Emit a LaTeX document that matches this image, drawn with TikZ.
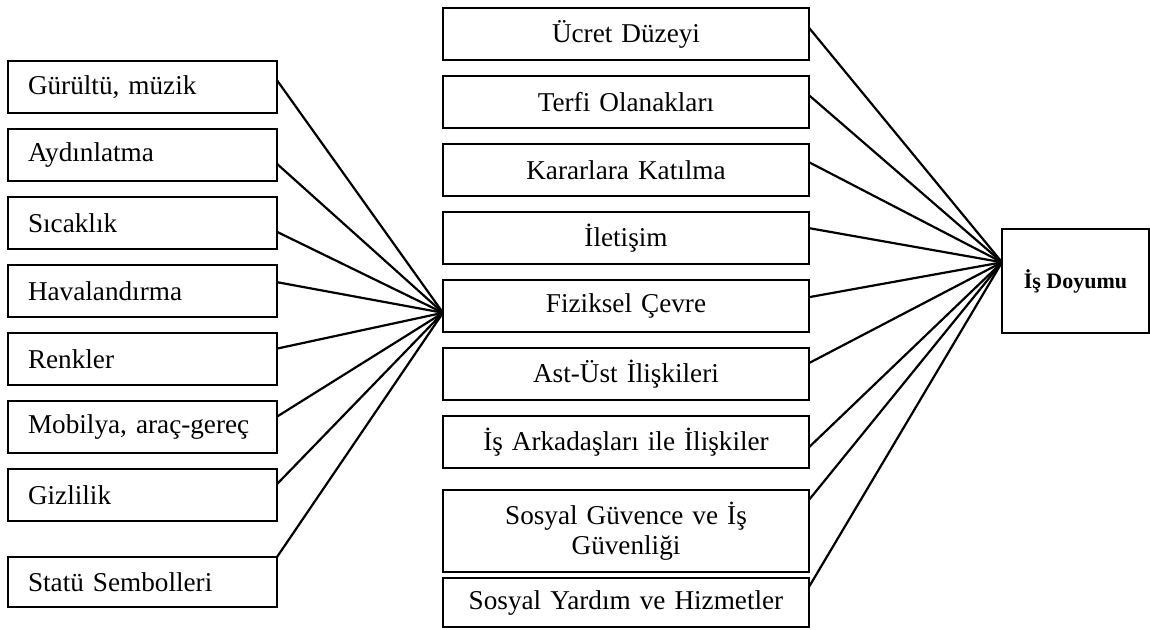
\documentclass[tikz,border=0pt]{standalone}
\usepackage{fontspec}
\setmainfont{Liberation Serif}
\usetikzlibrary{positioning,calc}

\begin{document}
\begin{tikzpicture}[x=0.5pt,y=-0.5pt,
  node distance=8pt,
  fbox/.style={draw,line width=1.2pt,outer sep=0pt,minimum height=26pt,inner xsep=10pt,
               font=\fontsize{13.6}{15}\selectfont},
  lbox/.style={fbox,text width=114.5pt,align=left},
  mbox/.style={fbox,text width=163pt,align=center},
  link/.style={line width=1.1pt}
]
\useasboundingbox (0,0) rectangle (1150,629);
% left column
\node[lbox,anchor=north west] (noise) at (8,61) {Gürültü, müzik};
\node[lbox,below=of noise] (lighting) {Aydınlatma};
\node[lbox,below=of lighting] (heat) {Sıcaklık};
\node[lbox,below=of heat] (airflow) {Havalandırma};
\node[lbox,below=of airflow] (colours) {Renkler};
\node[lbox,below=of colours] (furniture) {Mobilya, araç-gereç};
\node[lbox,below=of furniture] (privacy) {Gizlilik};
\node[lbox,below=18pt of privacy,minimum height=25pt] (status) {Statü Sembolleri};
% middle column
\node[mbox,anchor=north west] (pay) at (443,8) {Ücret Düzeyi};
\node[mbox,below=of pay] (promo) {Terfi Olanakları};
\node[mbox,below=of promo] (decide) {Kararlara Katılma};
\node[mbox,below=of decide] (comm) {İletişim};
\node[mbox,below=of comm] (env) {Fiziksel Çevre};
\node[mbox,below=of env] (boss) {Ast-Üst İlişkileri};
\node[mbox,below=of boss] (peers) {İş Arkadaşları ile İlişkiler};
\node[mbox,below=11pt of peers,minimum height=41pt] (security) {Sosyal Güvence ve İş\\Güvenliği};
\node[mbox,below=3pt of security,minimum height=24.5pt] (welfare) {Sosyal Yardım ve Hizmetler};
% outcome
\node[draw,line width=1.2pt,outer sep=0pt,anchor=north west,minimum width=73.5pt,minimum height=52pt,
      font=\fontsize{11}{13}\selectfont\bfseries] (sat) at (1002,229) {İş Doyumu};

\coordinate (hubL) at ($(env.north west)!0.63!(env.south west)$);
\coordinate (hubR) at ($(sat.north west)!0.32!(sat.south west)$);

\foreach \n/\f in {noise/0.37,lighting/0.67,heat/0.67,airflow/0.33,
                   colours/0.3,furniture/0.3,privacy/0.29,status/0}
  \draw[link] ($(\n.north east)!\f!(\n.south east)$) -- (hubL);
\foreach \n/\f in {pay/0.38,promo/0.37,decide/0.35,comm/0.31,env/0.33,
                   boss/0.29,peers/0.6,security/0.12,welfare/0.18}
  \draw[link] ($(\n.north east)!\f!(\n.south east)$) -- (hubR);
\end{tikzpicture}
\end{document}
